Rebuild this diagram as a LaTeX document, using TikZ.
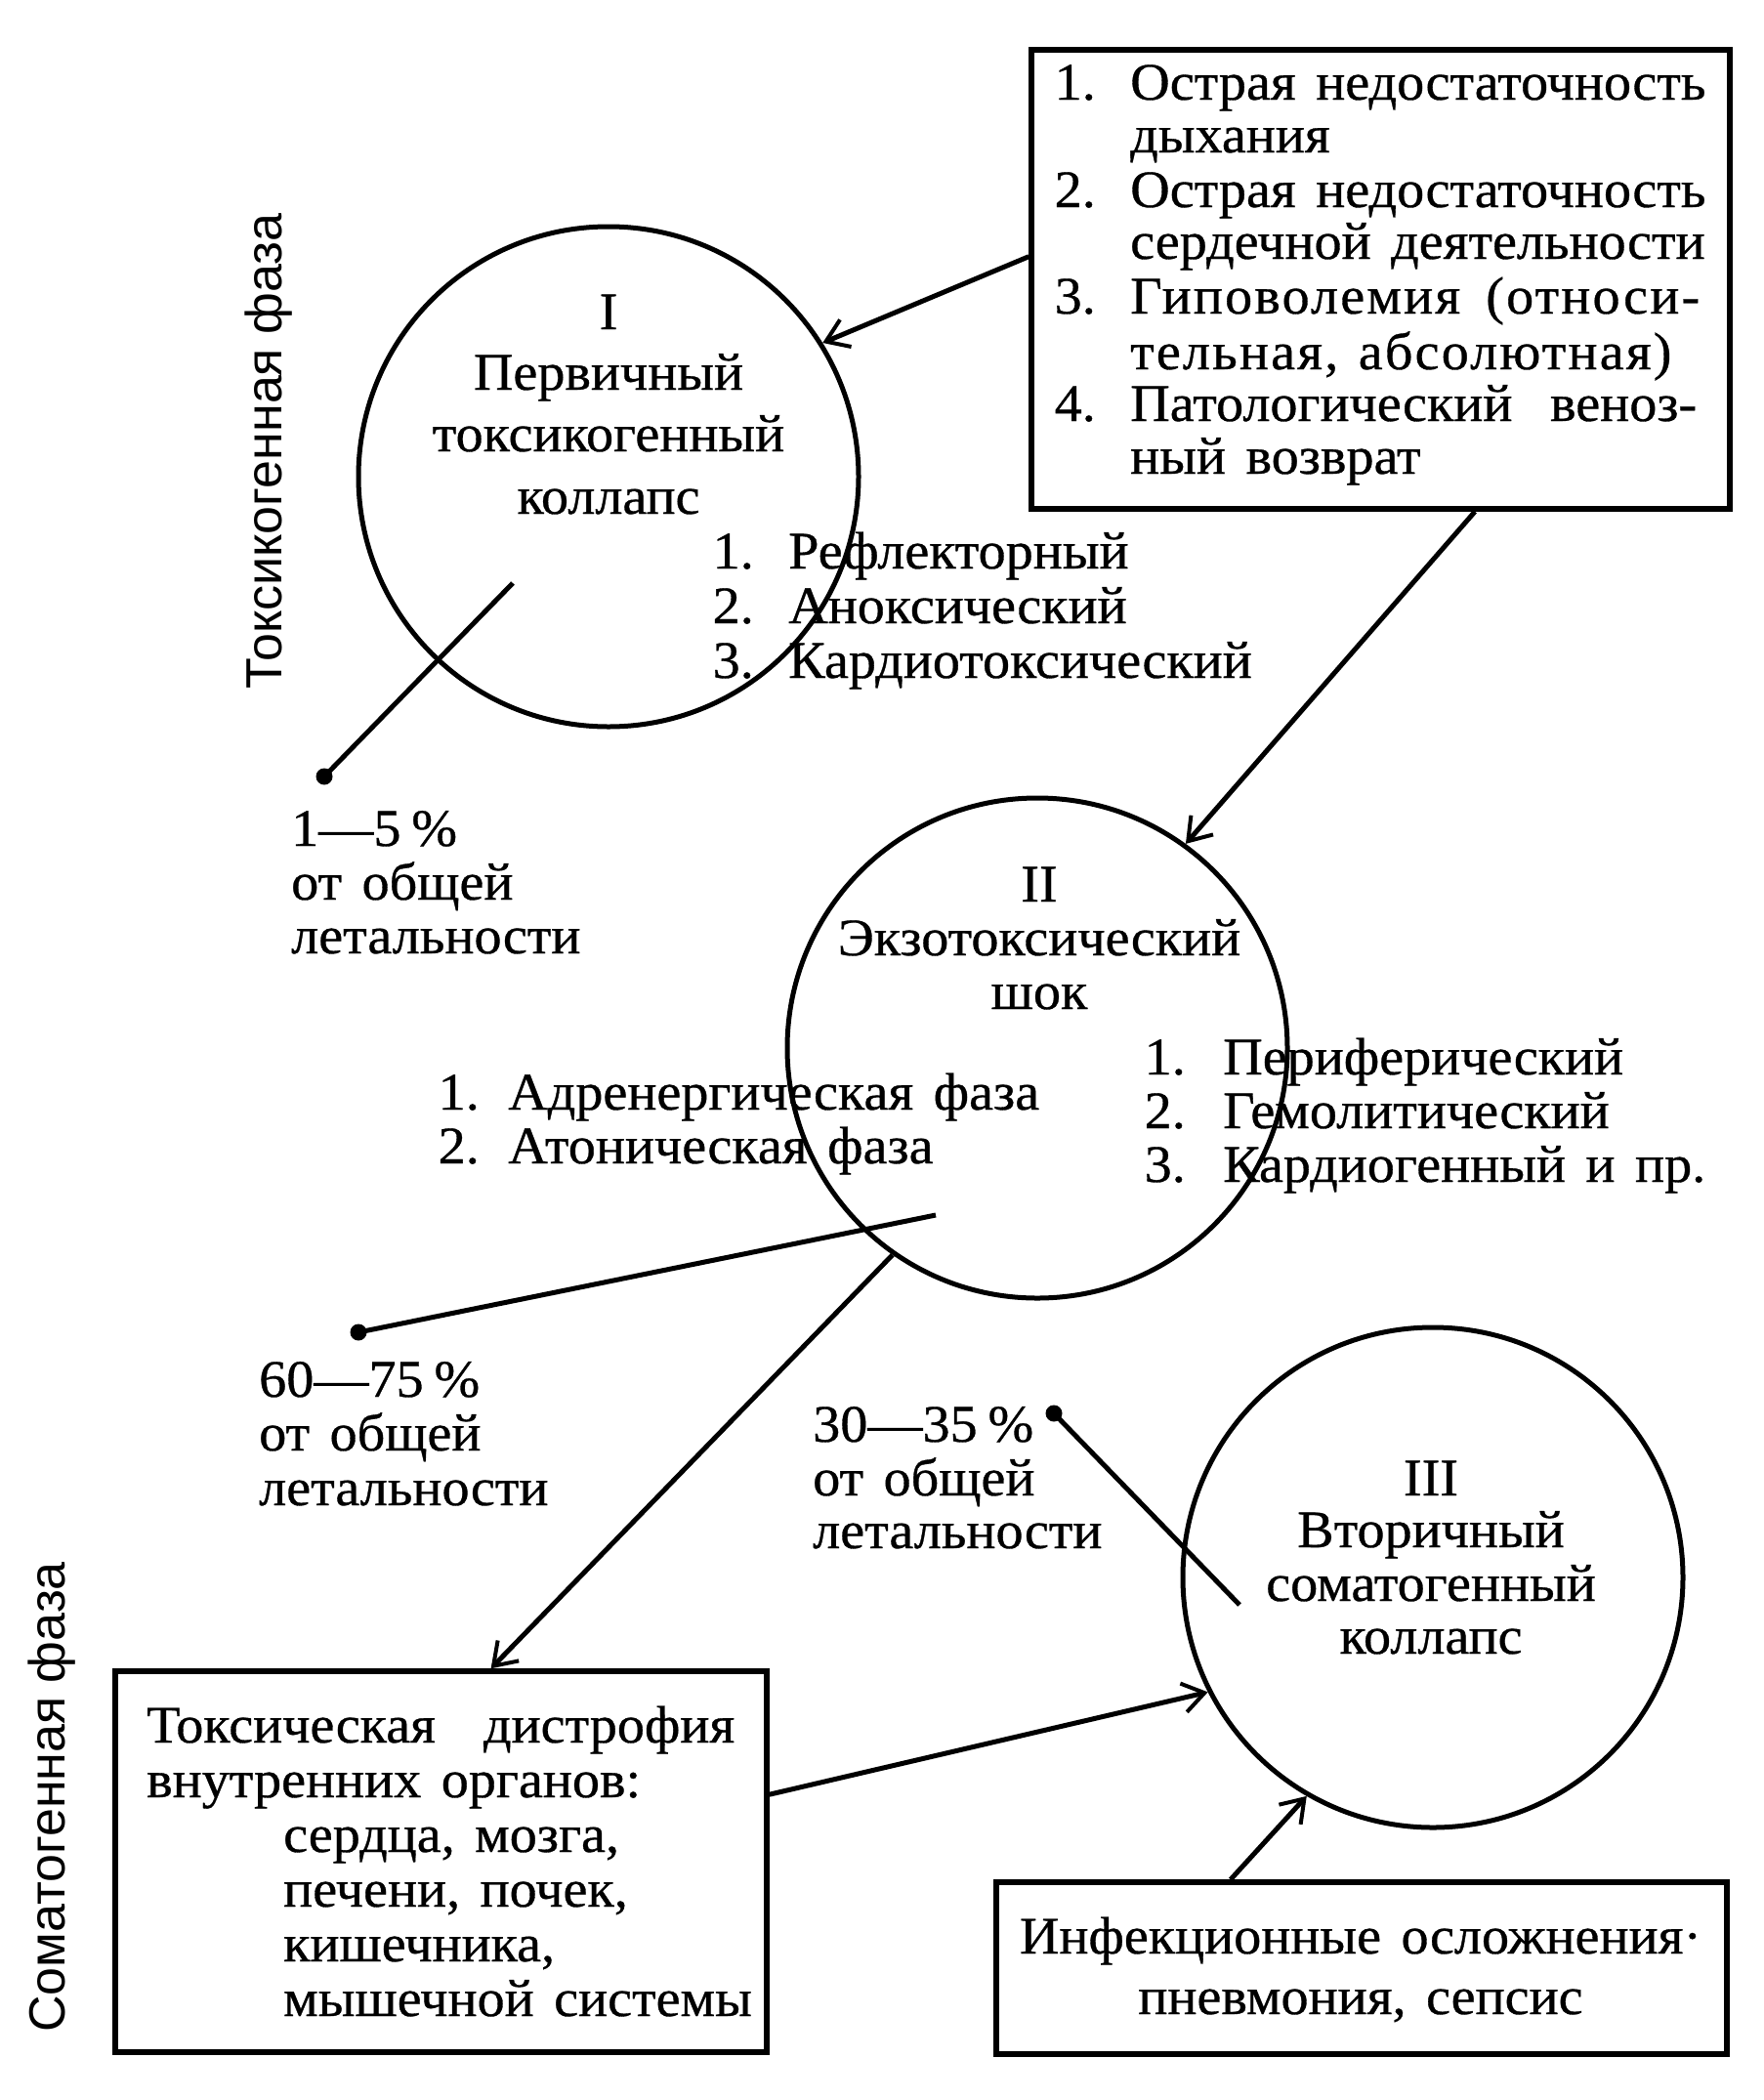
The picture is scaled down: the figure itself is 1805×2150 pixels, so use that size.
\documentclass[tikz,border=0pt]{standalone}
\usepackage{fontspec}
\setmainfont{Liberation Serif}[FakeBold=0.6,FakeStretch=1.04]
\newfontfamily\lspfont{Liberation Serif}[FakeBold=0.6,FakeStretch=1.04,LetterSpace=4]
\newfontfamily\sansf{Liberation Sans}
\usetikzlibrary{arrows.meta,calc}
\newcommand\jl[2]{\makebox[#1][s]{#2}}
\newcommand\tfont{\fontsize{54}{54}\selectfont\spaceskip=0.38em plus 1em\relax}
\newcommand\pct{\hspace{0.2em}\%}
\begin{document}
\begin{tikzpicture}[x=1pt,y=-1pt,
  txt/.style={font=\tfont, inner sep=0pt, anchor=base west},
  ctxt/.style={font=\tfont, inner sep=0pt, anchor=base},
  num/.style={font=\tfont, inner sep=0pt, anchor=base east},
  vtxt/.style={font=\sansf\fontsize{52}{52}\selectfont, inner sep=0pt, rotate=90},
  ring/.style={circle, draw, line width=5pt, minimum size=512pt, inner sep=0pt},
  frame/.style={draw, line width=5.5pt, inner sep=0pt},
  conn/.style={line width=5pt},
  arr/.style={conn, -{Straight Barb[length=22pt,width=30pt,line width=4pt]}},
  dot/.style={circle, fill, inner sep=0pt, minimum size=17pt}
]
\useasboundingbox (0,0) rectangle (1805,2150);
\fill[white] (0,0) rectangle (1805,2150);

% circles
\node[ring] (c1) at (623,488) {};
\node[ring] (c2) at (1062,1073) {};
\node[ring] (c3) at (1467,1615) {};

% boxes
\node[frame, minimum width=715pt, minimum height=470pt] (box1) at (1413.5,286) {};
\node[frame, minimum width=667pt, minimum height=390pt] (box2) at (451.5,1906) {};
\node[frame, minimum width=748pt, minimum height=176pt] (box3) at (1394,2015) {};

% side labels
\node[vtxt] (ph1) at (275,462) {Токсикогенная фаза};
\node[vtxt] (ph2) at (53,1840) {Соматогенная фаза};

% box 1 text
\node[num] (b1n1) at (1122,102) {1.};
\node[txt] (b1t1) at (1157,102) {\jl{585pt}{Острая недостаточность}};
\node[txt] (b1t2) at (1157,156) {дыхания};
\node[num] (b1n2) at (1122,212) {2.};
\node[txt] (b1t3) at (1157,212) {\jl{585pt}{Острая недостаточность}};
\node[txt] (b1t4) at (1157,265) {\jl{569pt}{сердечной деятельности}};
\node[num] (b1n3) at (1122,321) {3.};
\node[txt] (b1t5) at (1157,321) {\lspfont\spaceskip=0.38em plus 1em\relax\jl{583pt}{Гиповолемия (относи-}};
\node[txt] (b1t6) at (1157,378) {\lspfont\spaceskip=0.38em plus 1em\relax\jl{516pt}{тельная, абсолютная)}};
\node[num] (b1n4) at (1122,431) {4.};
\node[txt] (b1t7) at (1157,431) {\jl{580pt}{Патологический веноз-}};
\node[txt] (b1t8) at (1157,485) {ный возврат};

% circle I text
\node[ctxt] (c1a) at (623,337) {I};
\node[ctxt] (c1b) at (623,399) {Первичный};
\node[ctxt] (c1c) at (623,462) {токсикогенный};
\node[ctxt] (c1d) at (623,526) {коллапс};
\node[num] (l1n1) at (772,582) {1.};
\node[txt] (l1t1) at (807,582) {Рефлекторный};
\node[num] (l1n2) at (772,638) {2.};
\node[txt] (l1t2) at (807,638) {Аноксический};
\node[num] (l1n3) at (772,694) {3.};
\node[txt] (l1t3) at (807,694) {Кардиотоксический};

% circle II text
\node[ctxt] (c2a) at (1064,923) {II};
\node[ctxt] (c2b) at (1064,978) {Экзотоксический};
\node[ctxt] (c2c) at (1064,1033) {шок};
\node[num] (r2n1) at (1214,1100) {1.};
\node[txt] (r2t1) at (1252,1100) {Периферический};
\node[num] (r2n2) at (1214,1155) {2.};
\node[txt] (r2t2) at (1252,1155) {Гемолитический};
\node[num] (r2n3) at (1214,1210) {3.};
\node[txt] (r2t3) at (1252,1210) {\jl{492pt}{Кардиогенный и пр.}};
\node[num] (q2n1) at (491,1136) {1.};
\node[txt] (q2t1) at (520,1136) {\jl{536pt}{Адренергическая фаза}};
\node[num] (q2n2) at (491,1191) {2.};
\node[txt] (q2t2) at (520,1191) {\jl{435pt}{Атоническая фаза}};

% circle III text
\node[ctxt] (c3a) at (1465,1531) {III};
\node[ctxt] (c3b) at (1465,1584) {Вторичный};
\node[ctxt] (c3c) at (1465,1639) {соматогенный};
\node[ctxt] (c3d) at (1465,1693) {коллапс};

% percentages
\node[txt] (p1a) at (298,866) {1—5\pct};
\node[txt] (p1b) at (298,921) {от общей};
\node[txt] (p1c) at (298,976) {летальности};
\node[txt] (p2a) at (265,1430) {60—75\pct};
\node[txt] (p2b) at (265,1485) {от общей};
\node[txt] (p2c) at (265,1541) {летальности};
\node[txt] (p3a) at (832,1476) {30—35\pct};
\node[txt] (p3b) at (832,1531) {от общей};
\node[txt] (p3c) at (832,1585) {летальности};

% box 2 text
\node[txt] (b2t1) at (150,1784) {\jl{602pt}{Токсическая дистрофия}};
\node[txt] (b2t2) at (150,1840) {внутренних органов:};
\node[txt] (b2t3) at (290,1896) {сердца, мозга,};
\node[txt] (b2t4) at (290,1952) {печени, почек,};
\node[txt] (b2t5) at (290,2008) {кишечника,};
\node[txt] (b2t6) at (290,2064) {мышечной системы};

% box 3 text
\node[ctxt] (b3t1) at (1393,2000) {Инфекционные осложнения·};
\node[ctxt] (b3t2) at (1393,2062) {пневмония, сепсис};

% dots and lines
\coordinate (k1) at (525,597);
\coordinate (k2) at (958,1244);
\coordinate (k3) at (1269,1643);
\node[dot] (d1) at (332,795) {};
\node[dot] (d2) at (367,1364) {};
\node[dot] (d3) at (1079,1447) {};
\draw[conn] (k1) -- (d1.center);
\draw[conn] (k2) -- (d2.center);
\draw[conn] (k3) -- (d3.center);

% arrows
\draw[arr] ($(box1.north west)!0.451!(box1.south west)$) -- (c1.32.5);
\draw[arr] ($(box1.south west)!0.634!(box1.south east)$) -- (c2.54.6);
\draw[arr] (c2.235.3) -- ($(box2.north west)!0.576!(box2.north east)$);
\draw[arr] ($(box2.north east)!0.326!(box2.south east)$) -- (c3.207.3);
\draw[arr] ($(box3.north west)!0.322!(box3.north east)$) -- (c3.240.2);
\end{tikzpicture}
\end{document}
